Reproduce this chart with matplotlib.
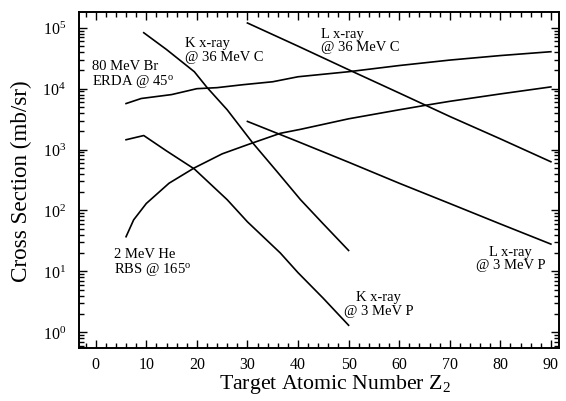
import matplotlib
matplotlib.use('Agg')
import matplotlib.pyplot as plt
from matplotlib.ticker import MultipleLocator, LogLocator, LogFormatterMathtext, NullFormatter

plt.rcParams['font.family'] = ['Liberation Serif', 'DejaVu Serif']
plt.rcParams['mathtext.fontset'] = 'custom'
plt.rcParams['mathtext.rm'] = 'Liberation Serif'
plt.rcParams['mathtext.it'] = 'Liberation Serif:italic'

# Cross sections (mb/sr) vs target Z
erda_z = [6, 9, 15, 20, 24, 29, 35, 40, 50, 60, 70, 80, 90]
erda_y = [5700, 6900, 8000, 10000, 10400, 11600, 13000, 15700, 19000, 24000, 29500, 35000, 40500]

kc_z = [9.5, 14, 19.5, 22, 26, 31, 36, 40.5, 45, 50]
kc_y = [83000, 44000, 19000, 10500, 4500, 1300, 420, 150, 60, 22]

lc_z = [30, 40, 50, 60, 70, 80, 90]
lc_y = [120000, 50000, 20500, 8500, 3500, 1500, 630]

rbs_z = [6, 7.5, 10, 14.5, 19.5, 25, 30, 36.5, 40.5, 50, 60, 65, 70, 80, 90]
rbs_y = [37, 70, 130, 280, 500, 850, 1200, 1850, 2150, 3200, 4500, 5300, 6200, 8200, 10700]

kp_z = [6, 9.5, 14, 19.5, 26, 30, 36.5, 40, 45, 50]
kp_y = [1450, 1700, 950, 480, 150, 65, 20, 9.5, 3.6, 1.3]

lp_z = [30, 40, 50, 60, 70, 80, 90]
lp_y = [2900, 1350, 620, 280, 130, 60, 28]

fig = plt.figure(figsize=(5.66, 4.02), dpi=100)
ax = fig.add_axes([0.1396, 0.1318, 0.8480, 0.8359])

for z, y in [(erda_z, erda_y), (kc_z, kc_y), (lc_z, lc_y),
             (rbs_z, rbs_y), (kp_z, kp_y), (lp_z, lp_y)]:
    ax.plot(z, y, 'k-', lw=1.2)

ax.set_yscale('log')
ax.set_xlim(-3.3, 91.6)
ax.set_ylim(10**-0.26, 10**5.26)

ax.xaxis.set_major_locator(MultipleLocator(10))
ax.xaxis.set_minor_locator(MultipleLocator(2))
ax.yaxis.set_major_locator(LogLocator(base=10, numticks=10))
ax.yaxis.set_minor_locator(LogLocator(base=10, subs=range(2, 10), numticks=10))
ax.yaxis.set_major_formatter(LogFormatterMathtext())
ax.yaxis.set_minor_formatter(NullFormatter())

ax.tick_params(which='both', direction='in', top=True, right=True, width=1.0)
ax.tick_params(which='major', length=6, labelsize=11.5, pad=6)
ax.tick_params(axis='y', which='major', pad=9.5)
ax.tick_params(which='minor', length=3.5)
for s in ax.spines.values():
    s.set_linewidth(1.4)

ax.set_xlabel('Target Atomic Number Z$\\mathregular{_2}$', fontsize=15.7, labelpad=0)
ax.xaxis.label.set_x(0.533)
ax.set_ylabel('Cross Section (mb/sr)', fontsize=16.7, labelpad=7)

fs = 10.5
ls = 1.05
ax.text(-0.7, 10**4.24, '80 MeV Br\nERDA @ 45$^{\\mathregular{o}}$', fontsize=fs,
        linespacing=ls, ha='left', va='center')
ax.text(17.6, 10**4.64, 'K x-ray\n@ 36 MeV C', fontsize=fs,
        linespacing=ls, ha='left', va='center')
ax.text(44.5, 10**4.80, 'L x-ray\n@ 36 MeV C', fontsize=fs,
        linespacing=ls, ha='left', va='center')
ax.text(3.6, 10**1.15, '2 MeV He\nRBS @ 165$^{\\mathregular{o}}$', fontsize=fs,
        linespacing=ls, ha='left', va='center')
ax.text(56.0, 10**0.47, 'K x-ray\n@ 3 MeV P', fontsize=fs,
        linespacing=ls, ha='center', va='center')
ax.text(82.0, 10**1.22, 'L x-ray\n@ 3 MeV P', fontsize=fs,
        linespacing=ls, ha='center', va='center')

plt.savefig('out.png', dpi=100)
